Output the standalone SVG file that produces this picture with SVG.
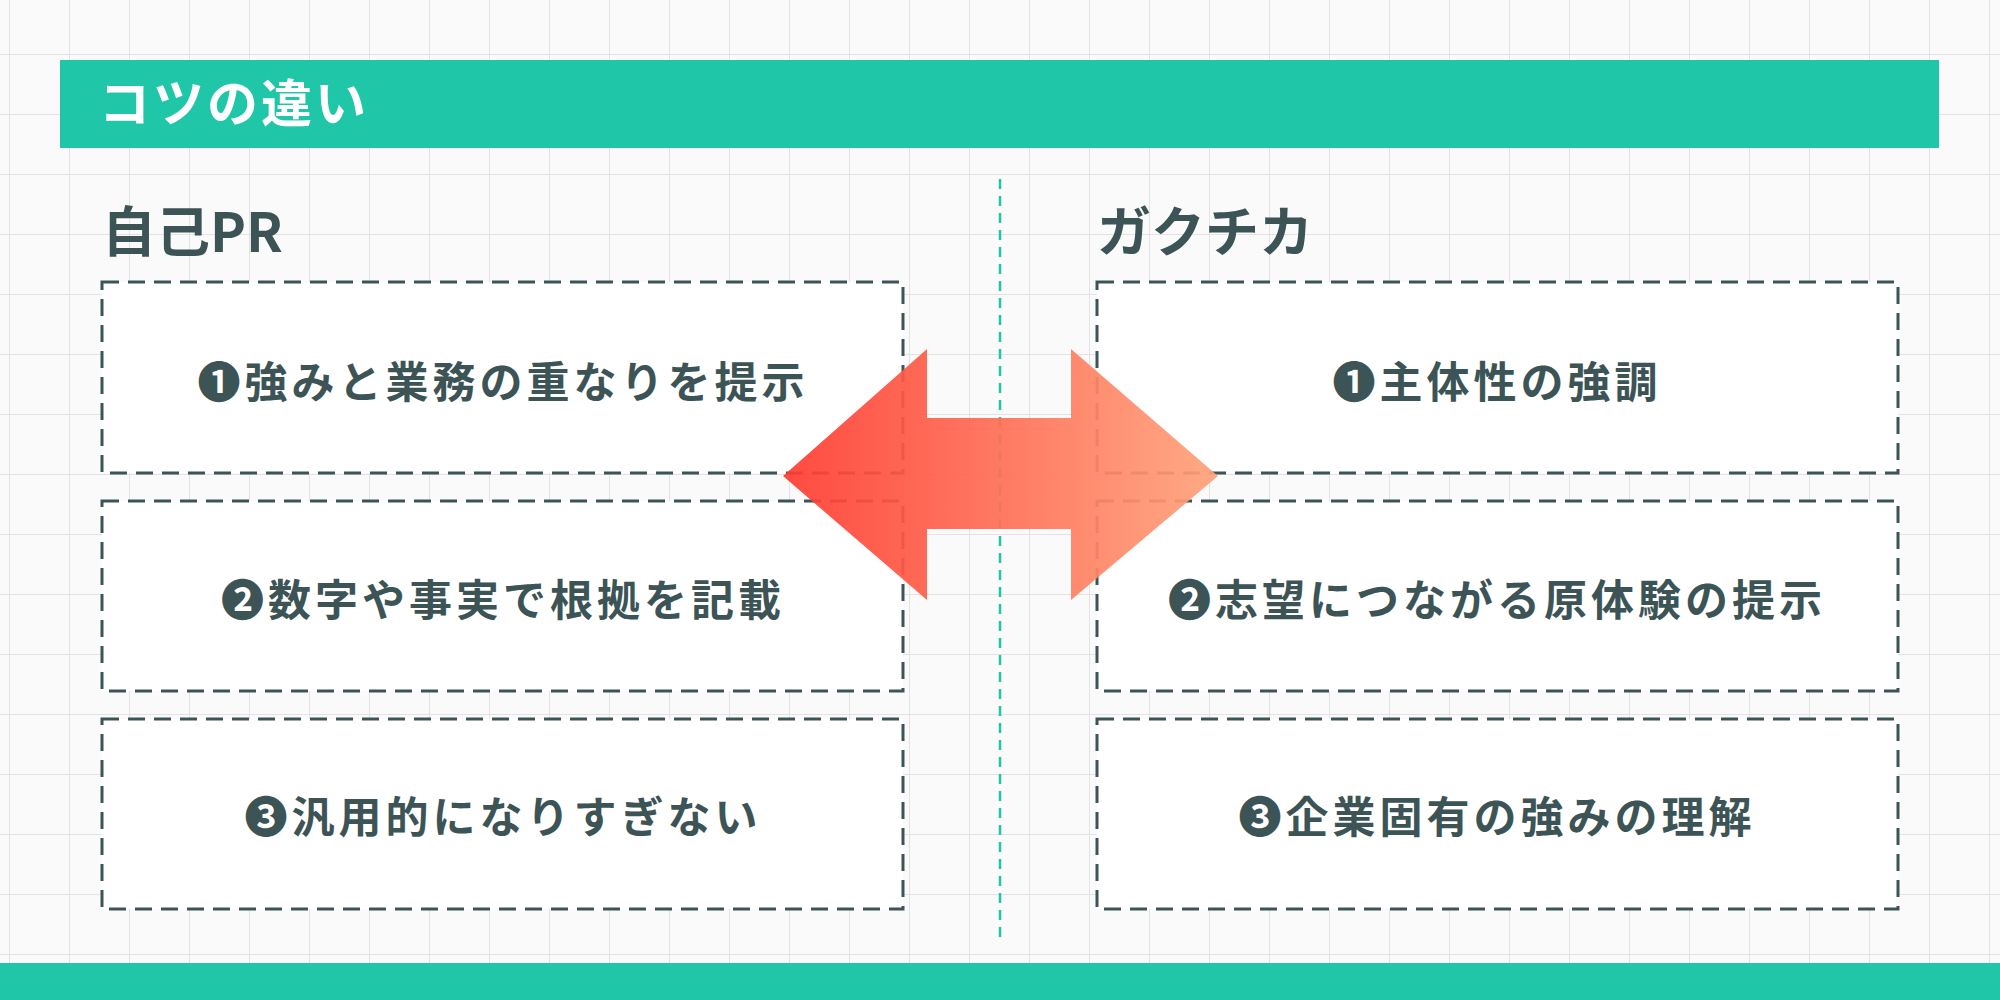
<svg xmlns="http://www.w3.org/2000/svg" width="2000" height="1000" viewBox="0 0 2000 1000">
<defs>
<pattern id="grid" width="60" height="60" patternUnits="userSpaceOnUse" x="10" y="-5">
<path d="M60 0V60M0 60H60" fill="none" stroke="#e3e3e3" stroke-width="2"/>
</pattern>
<linearGradient id="ag" x1="0" x2="1" y1="0" y2="0">
<stop offset="0" stop-color="#ff3b30"/>
<stop offset="1" stop-color="#ffa27a"/>
</linearGradient>
<style>
.t{font-family:"Noto Sans CJK JP","Noto Sans",sans-serif;font-weight:700;fill:#3d5457}
.box{fill:#fff;stroke:#3d5457;stroke-width:3;stroke-dasharray:17 9}
.bt{font-size:43px;letter-spacing:4px;text-anchor:middle;dominant-baseline:central}
</style>
</defs>
<rect width="2000" height="1000" fill="#fafafa"/>
<rect width="2000" height="1000" fill="url(#grid)"/>
<g id="header">
<rect x="60" y="60" width="1879" height="88" fill="#1fc6a8"/>
<text x="99" y="122" class="t" style="fill:#fff;font-size:51px;letter-spacing:3px">コツの違い</text>
</g>
<rect id="footer" x="0" y="963" width="2000" height="37" fill="#1fc6a8"/>
<g id="titles">
<text x="102" y="252" class="t" font-size="54">自己PR</text>
<text x="1097" y="252" class="t" font-size="54">ガクチカ</text>
</g>
<g id="connectors">
<line x1="1000" y1="179" x2="1000" y2="937" stroke="#1fc6a8" stroke-width="2.5" stroke-dasharray="10 7"/>
</g>
<g id="left1"><rect class="box" x="102" y="282" width="801" height="191"/><text class="t bt" x="503" y="379">❶強みと業務の重なりを提示</text></g>
<g id="left2"><rect class="box" x="102" y="501" width="801" height="190"/><text class="t bt" x="503" y="597">❷数字や事実で根拠を記載</text></g>
<g id="left3"><rect class="box" x="102" y="719" width="801" height="190"/><text class="t bt" x="503" y="814">❸汎用的になりすぎない</text></g>
<g id="right1"><rect class="box" x="1097" y="282" width="801" height="191"/><text class="t bt" x="1497" y="379">❶主体性の強調</text></g>
<g id="right2"><rect class="box" x="1097" y="501" width="801" height="190"/><text class="t bt" x="1497" y="597">❷志望につながる原体験の提示</text></g>
<g id="right3"><rect class="box" x="1097" y="719" width="801" height="190"/><text class="t bt" x="1497" y="814">❸企業固有の強みの理解</text></g>
<g id="arrow">
<path d="M783 476L927 349V418H1071V349L1218 476L1071 600V529H927V600Z" fill="url(#ag)" opacity="0.92"/>
</g>
</svg>
